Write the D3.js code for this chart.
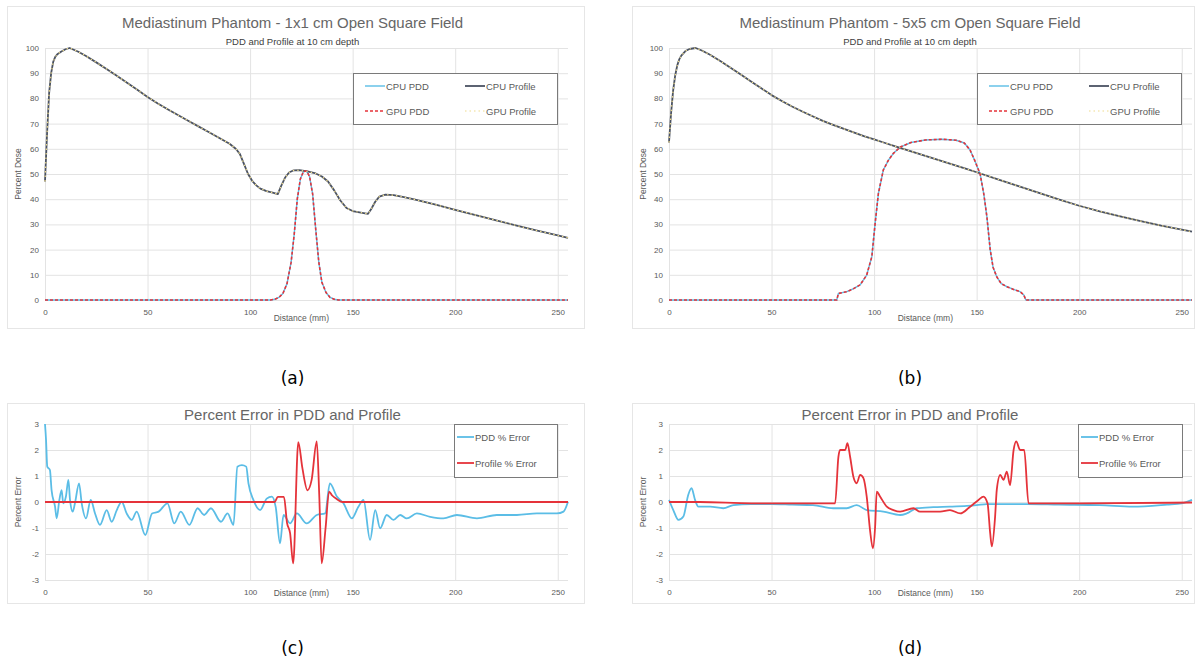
<!DOCTYPE html>
<html>
<head>
<meta charset="utf-8">
<script src="https://cdn.jsdelivr.net/npm/d3@7"></script>
<style>
  body { margin: 0; background: #fff; }
  svg text { font-family: "Liberation Sans", Arial, sans-serif; }
</style>
</head>
<body>
<svg width="1203" height="666"></svg>
<script>
// ---- data (x = distance in mm) ----
const distTicks = [0, 50, 100, 150, 200, 250];
const doseTicks = [0, 10, 20, 30, 40, 50, 60, 70, 80, 90, 100];
const errTicks = [-3, -2, -1, 0, 1, 2, 3];

// depth-dose shaped curve and cross-profile shaped curve
const depth1x1 = [[0,47],[1,66],[2,82],[3,90],[4,94.5],[5,96.5],[6,97.5],[8,98.6],[10,99.5],[12,100],[16,98.6],[20,96.8],[25,94.3],[30,91.7],[35,89],[40,86.2],[45,83.4],[50,80.6],[55,78],[60,75.6],[65,73.3],[70,71],[75,68.8],[80,66.6],[85,64.3],[90,62],[93,60],[95,58],[97,54],[99,50],[101,47.3],[103,45.5],[105,44.2],[108,43.2],[111,42.6],[113.5,42],[115,45],[117,48.5],[119,50.6],[121,51.4],[124,51.5],[128,51],[132,50.2],[135,49],[138,47],[141,43.5],[144,39.5],[147,36.5],[150,35.3],[154,34.7],[157.5,34.2],[159,36],[161,39],[163,41],[166,41.8],[170,41.6],[175,40.8],[180,39.9],[190,37.9],[200,35.8],[210,33.7],[220,31.6],[230,29.5],[240,27.5],[250,25.6],[255,24.7]];
const cross1x1 = [[0,0],[50,0],[100,0],[110,0],[112,0.3],[114,1],[116,2.6],[118,6.5],[120,15],[121.5,26],[123,40],[124.5,48],[126,51],[127.5,51.2],[129,49],[130.5,42],[132,28],[133.5,15],[135,7],[137,3],[139,1],[141,0.3],[143,0],[200,0],[255,0]];

const depth5x5 = [[0,62.5],[1,74],[2,83],[3,89],[4,93],[5,95.5],[6,97],[8,98.8],[10,99.6],[13,100],[16,99],[20,97.3],[25,94.8],[30,92.2],[35,89.5],[40,86.7],[45,84],[50,81.3],[55,79],[60,76.8],[65,74.8],[70,72.9],[75,71.1],[80,69.5],[85,68],[90,66.5],[95,65],[100,63.7],[105,62.4],[110,61.1],[115,59.8],[120,58.5],[125,57.2],[130,55.9],[135,54.6],[140,53.3],[145,52],[150,50.7],[160,48],[170,45.3],[180,42.6],[190,39.9],[200,37.4],[210,35.2],[220,33.2],[230,31.3],[240,29.5],[250,27.9],[255,27.1]];
const cross5x5 = [[0,0],[81.8,0],[82.6,2.6],[86.7,3.3],[90,4.5],[93.2,6],[96.4,9.9],[98.9,17.2],[100.5,30.4],[102.1,42.3],[104.5,51.6],[107,55.5],[109.4,58.2],[113,60.8],[118,62.5],[125,63.5],[133,63.8],[140,63.4],[144,62.3],[146.8,59.5],[149,55.5],[151.7,50],[153.5,42],[155,33],[156.6,20],[158,13],[159.8,9.2],[162,6.5],[164.7,5.3],[168,4.2],[171.2,3.3],[173,2],[174,0],[255,0]];

const pddErr1x1 = [[0,3.0],[0.5,2.4],[1.1,1.36],[2.4,1.23],[3.2,0.46],[4.9,-0.18],[5.7,-0.63],[7,0.08],[8.1,0.46],[8.9,-0.05],[10.2,0.21],[11.4,0.85],[12.2,0.08],[13.5,-0.37],[14.6,-0.05],[16.6,0.72],[17.9,-0.05],[20,-0.63],[22.3,0.08],[24.4,-0.44],[26.8,-0.88],[30.1,-0.31],[32.5,-0.76],[35,-0.31],[37.4,0.01],[39.8,-0.44],[42.3,-0.69],[44.7,-0.37],[48.9,-1.27],[52.2,-0.44],[55.4,-0.37],[59.7,-0.05],[63,-0.82],[66.2,-0.37],[70.4,-0.88],[74.4,-0.24],[77.6,-0.5],[80.9,-0.24],[85.8,-0.76],[89,-0.44],[91.9,-0.88],[93.8,1.36],[96,1.42],[98.1,1.36],[99.2,0.72],[101.6,0.08],[104.9,-0.31],[108.1,0.13],[110.6,0.21],[112.5,-0.2],[114.6,-1.59],[116.3,-0.5],[119.5,-0.82],[122.8,-0.44],[127.6,-0.82],[132.5,-0.5],[136.6,-0.44],[138.9,0.72],[142.3,0.21],[145.5,-0.05],[149.6,-0.63],[152.8,-0.18],[155.3,0.08],[158.5,-1.46],[161,-0.31],[163.4,-1.01],[166.6,-0.5],[169.9,-0.69],[173.2,-0.5],[176.4,-0.63],[181.3,-0.44],[187.8,-0.57],[194.3,-0.63],[200.8,-0.5],[210.6,-0.63],[220.3,-0.5],[230.1,-0.5],[239.8,-0.44],[249.6,-0.44],[252.8,-0.37],[255,0.01]];
const profErr1x1 = [[0,0],[112,0],[113.5,0.2],[116.5,0.2],[118,-0.8],[119.5,-1.2],[121,-2.36],[123.5,2.3],[125.5,1.3],[128,0.45],[130,0.85],[132.5,2.33],[133.7,0.3],[134.9,-2.36],[136.8,-1.0],[138.5,0.4],[140,0.25],[142.5,0.1],[145,0],[255,0]];

const pddErr5x5 = [[0,0.08],[2.1,-0.31],[4.6,-0.69],[7,-0.56],[9.4,0.28],[11,0.53],[12.7,0.08],[14.3,-0.18],[20,-0.18],[26.5,-0.24],[31.4,-0.12],[40,-0.08],[50,-0.08],[60,-0.1],[70.2,-0.12],[80,-0.24],[86.7,-0.24],[91.5,-0.12],[96.4,-0.31],[104.5,-0.37],[112.7,-0.5],[115.9,-0.44],[120.8,-0.24],[128.9,-0.2],[137,-0.18],[145.2,-0.15],[150,-0.12],[155,-0.08],[175,-0.08],[190,-0.1],[210,-0.12],[226,-0.18],[242.8,-0.1],[250,-0.05],[255,0.08]];
const profErr5x5 = [[0,0],[15,0],[40,-0.05],[81,-0.05],[82.6,1.74],[83.4,2.0],[85.9,2.0],[87,2.26],[88.3,1.74],[89.9,0.97],[91.5,0.72],[93.2,1.04],[94.8,0.92],[96.4,0.21],[98,-1.07],[99.4,-1.78],[100.5,-0.95],[101.3,0.4],[102.9,0.21],[106.2,-0.18],[109.4,-0.31],[112.7,-0.37],[119.2,-0.24],[122.4,-0.37],[132.2,-0.37],[137,-0.31],[142,-0.44],[146.8,-0.18],[150.9,0.08],[153.3,0.21],[155.3,-0.05],[156.6,-1.2],[157.4,-1.71],[159,-0.56],[159.8,0.46],[161.5,1.04],[163.1,0.85],[164.7,1.17],[166.3,0.65],[168,1.99],[169.3,2.33],[171.2,2.0],[173.2,2.0],[175.3,-0.05],[200,-0.05],[255,-0.02]];

// ---- styles ----
const lightBlue = "#5bbde6", darkGray = "#4a5263", red = "#e5333a", yellow = "#f0dc8c";
const textGray = "#595959", gridGray = "#e3e3e3";

var svg = d3.select("svg");

// In the picture the legend styles land on swapped-looking curves: the depth-dose
// shaped curve shows the dark/yellow-dotted styles and the bell shows blue/red dashes.
// GPU curves sit exactly on the CPU ones, so they reuse the same points.
const panels = [
  { frame: [7, 6, 577, 322], px: [45, 568], py: [300, 48], yDomain: [0, 100], yTicks: doseTicks,
    title: "Mediastinum Phantom - 1x1 cm Open Square Field", subtitle: "PDD and Profile at 10 cm depth",
    yLabel: "Percent Dose", caption: "(a)", capY: 384,
    series: [
      { name: "CPU PDD", data: cross1x1, color: lightBlue, width: 1.4 },
      { name: "CPU Profile", data: depth1x1, color: darkGray, width: 1.8 },
      { name: "GPU PDD", data: cross1x1, color: red, width: 1.6, dash: "3,2" },
      { name: "GPU Profile", data: depth1x1, color: yellow, width: 1.2, dash: "1.5,3" }
    ],
    legend: { x: 353, y: 73, w: 204, h: 51, cols: 2 } },
  { frame: [632, 6, 562, 322], px: [669, 1192], py: [300, 48], yDomain: [0, 100], yTicks: doseTicks,
    title: "Mediastinum Phantom - 5x5 cm Open Square Field", subtitle: "PDD and Profile at 10 cm depth",
    yLabel: "Percent Dose", caption: "(b)", capY: 384,
    series: [
      { name: "CPU PDD", data: cross5x5, color: lightBlue, width: 1.4 },
      { name: "CPU Profile", data: depth5x5, color: darkGray, width: 1.8 },
      { name: "GPU PDD", data: cross5x5, color: red, width: 1.6, dash: "3,2" },
      { name: "GPU Profile", data: depth5x5, color: yellow, width: 1.2, dash: "1.5,3" }
    ],
    legend: { x: 977, y: 73, w: 204, h: 51, cols: 2 } },
  { frame: [7, 403, 577, 200], px: [45, 568], py: [580, 424], yDomain: [-3, 3], yTicks: errTicks,
    title: "Percent Error in PDD and Profile", yLabel: "Percent Error", caption: "(c)", capY: 654,
    series: [
      { name: "PDD % Error", data: pddErr1x1, color: lightBlue, width: 1.8, smooth: true },
      { name: "Profile % Error", data: profErr1x1, color: red, width: 1.8, smooth: true }
    ],
    legend: { x: 454, y: 424, w: 103, h: 53, cols: 1 } },
  { frame: [632, 403, 562, 200], px: [669, 1192], py: [580, 424], yDomain: [-3, 3], yTicks: errTicks,
    title: "Percent Error in PDD and Profile", yLabel: "Percent Error", caption: "(d)", capY: 654,
    series: [
      { name: "PDD % Error", data: pddErr5x5, color: lightBlue, width: 1.8, smooth: true },
      { name: "Profile % Error", data: profErr5x5, color: red, width: 1.8, smooth: true }
    ],
    legend: { x: 1078, y: 424, w: 104, h: 53, cols: 1 } }
];

panels.forEach(drawPanel);

function drawPanel(p) {
  var g = svg.append("g");
  var x = d3.scaleLinear().domain([0, 255]).range(p.px);
  var y = d3.scaleLinear().domain(p.yDomain).range(p.py);
  var cx = (p.frame[0] + p.frame[0] + p.frame[2]) / 2;

  // chart frame
  g.append("rect")
    .attr("x", p.frame[0] + 0.5).attr("y", p.frame[1] + 0.5)
    .attr("width", p.frame[2]).attr("height", p.frame[3])
    .attr("fill", "#fff").attr("stroke", "#e6e6e6");

  // gridlines + tick labels from the axes
  var yAxis = g.append("g").attr("transform", `translate(${p.px[0]},0)`)
    .call(d3.axisLeft(y).tickValues(p.yTicks).tickFormat(d => String(d))
      .tickSize(-(p.px[1] - p.px[0])).tickPadding(6));
  var xAxis = g.append("g").attr("transform", `translate(0,${p.py[0]})`)
    .call(d3.axisBottom(x).tickValues(distTicks).tickSize(-(p.py[0] - p.py[1])).tickPadding(9));
  [yAxis, xAxis].forEach(a => {
    a.select(".domain").remove();
    a.selectAll("line").attr("stroke", gridGray);
    a.selectAll("text").attr("fill", textGray).style("font-size", "8px");
  });

  // series
  p.series.forEach(s => {
    var line = d3.line().x(d => x(d[0])).y(d => y(d[1]))
      .curve(s.smooth ? d3.curveMonotoneX : d3.curveLinear);
    g.append("path").datum(s.data)
      .attr("d", line)
      .attr("fill", "none")
      .attr("stroke", s.color)
      .attr("stroke-width", s.width)
      .attr("stroke-dasharray", s.dash || null)
      .attr("stroke-linejoin", "round");
  });

  // titles
  g.append("text").attr("x", cx - 3).attr("y", p.subtitle ? 28 : p.frame[1] + 17)
    .attr("text-anchor", "middle").attr("fill", "#666")
    .style("font-size", "15px").text(p.title);
  if (p.subtitle) {
    g.append("text").attr("x", cx - 3).attr("y", 45)
      .attr("text-anchor", "middle").attr("fill", "#404040")
      .style("font-size", "9.5px").text(p.subtitle);
  }
  // axis titles
  var midY = (p.py[0] + p.py[1]) / 2;
  g.append("text")
    .attr("transform", `translate(${p.frame[0] + 14},${midY}) rotate(-90)`)
    .attr("text-anchor", "middle").attr("fill", textGray)
    .style("font-size", "8.5px").text(p.yLabel);
  g.append("text").attr("x", x(125)).attr("y", p.py[0] + (p.subtitle ? 21 : 16))
    .attr("text-anchor", "middle").attr("fill", textGray)
    .style("font-size", "8.5px").text("Distance (mm)");

  // legend
  var L = p.legend;
  var lg = g.append("g").attr("transform", `translate(${L.x},${L.y})`);
  lg.append("rect").attr("x", 0.5).attr("y", 0.5).attr("width", L.w).attr("height", L.h)
    .attr("fill", "#fff").attr("stroke", "#7a7a7a");
  p.series.forEach((s, i) => {
    var col, row;
    if (L.cols == 2) { col = i % 2; row = Math.floor(i / 2); }
    else { col = 0; row = i; }
    var sx = L.cols == 2 ? 12 + col * 100 : 3;
    var sy = L.cols == 2 ? 13 + row * 25 : 13 + row * 26;
    var swLen = L.cols == 2 ? 20 : 17;
    lg.append("line").attr("x1", sx).attr("x2", sx + swLen).attr("y1", sy).attr("y2", sy)
      .attr("stroke", s.color).attr("stroke-width", s.width)
      .attr("stroke-dasharray", s.dash || null);
    lg.append("text").attr("x", sx + swLen + 1).attr("y", sy + 3.5)
      .attr("fill", textGray).style("font-size", "9.5px").text(s.name);
  });

  // panel caption
  svg.append("text").attr("x", cx - 3).attr("y", p.capY)
    .attr("text-anchor", "middle").attr("fill", "#000")
    .style("font-family", "'DejaVu Sans', Verdana, sans-serif")
    .style("font-size", "17px").text(p.caption);
}
</script>
</body>
</html>
